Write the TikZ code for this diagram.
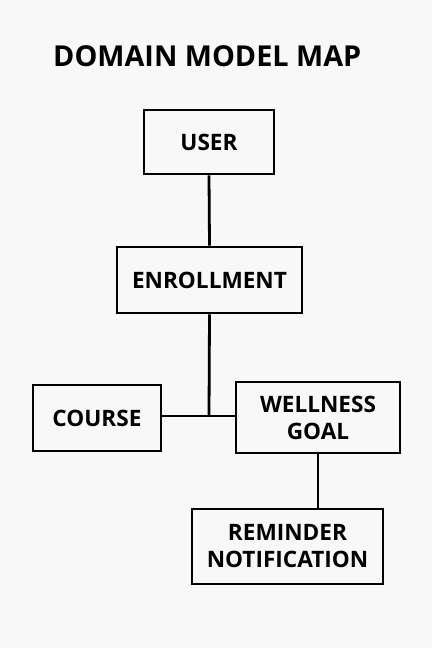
\documentclass[tikz,border=0pt]{standalone}
\usepackage{fontspec}
\setmainfont{Open Sans}
\definecolor{paper}{HTML}{F8F8F8}
\begin{document}
\begin{tikzpicture}[x=1pt,y=-1pt,
            entity/.style={draw,line width=2.8pt,align=center,inner sep=0pt,
              font=\fontsize{22.6}{27}\selectfont\bfseries},
            link/.style={line width=2.8pt}]
            \fill[paper] (0,0) rectangle (432,648);
            \useasboundingbox (0,0) rectangle (432,648);
            \node[anchor=base west,inner sep=0pt,font=\fontsize{28.8}{32}\selectfont\bfseries] (title) at (53,66) {DOMAIN MODEL MAP};
            \node[entity,minimum width=130pt,minimum height=64pt] (user) at (209,142) {USER};
            \node[entity,minimum width=185pt,minimum height=66pt] (enroll) at (209.5,280) {ENROLLMENT};
            \node[entity,minimum width=128pt,minimum height=66pt] (course) at (97,418) {COURSE};
            \node[entity,minimum width=164pt,minimum height=71pt] (goal) at (318,417.5) {WELLNESS\\GOAL};
            \node[entity,minimum width=191pt,minimum height=75pt] (remind) at (287.5,546.5) {REMINDER\\NOTIFICATION};
            \coordinate (joint) at (209,416);
            \draw[link] (user.south) -- (enroll.north);
            \draw[link] (enroll.south) -- (joint);
            \draw[link] (course.east |- joint) -- (goal.west |- joint);
            \draw[link] (goal.south) -- (goal.south |- remind.north);
        \end{tikzpicture}
\end{document}
